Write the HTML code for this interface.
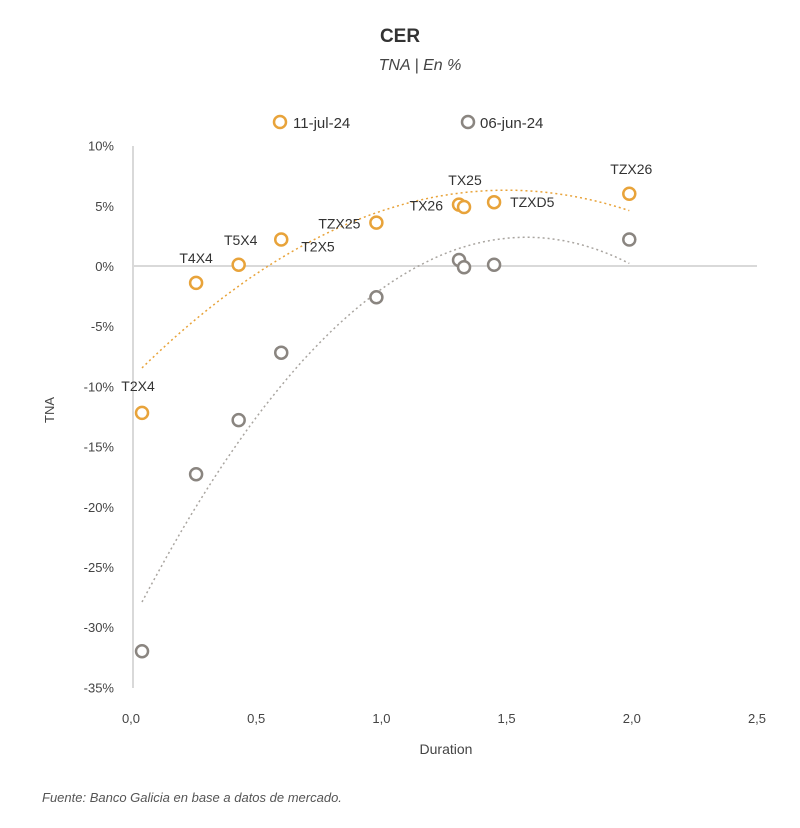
<!DOCTYPE html>
<html><head><meta charset="utf-8"><style>
body{margin:0;background:#fff;}
svg text{font-family:"Liberation Sans",sans-serif;}
</style></head><body>
<svg id="chart" width="800" height="823" viewBox="0 0 800 823" xmlns="http://www.w3.org/2000/svg">
<rect width="800" height="823" fill="#fff"/>
<text x="400" y="42" text-anchor="middle" font-size="19" font-weight="bold" fill="#333">CER</text>
<text x="420" y="70" text-anchor="middle" font-size="16" font-style="italic" fill="#444">TNA | En %</text>
<g>
<circle cx="280" cy="122" r="6" fill="#fff" stroke="#e8a33a" stroke-width="2.5"/>
<text x="293" y="128" font-size="15" fill="#333">11-jul-24</text>
<circle cx="468" cy="122" r="6" fill="#fff" stroke="#8a8580" stroke-width="2.5"/>
<text x="480" y="128" font-size="15" fill="#333">06-jun-24</text>
</g>
<g id="axes"></g>
<g id="marks"></g>
<text transform="translate(54,410) rotate(-90)" text-anchor="middle" font-size="13" fill="#444">TNA</text>
<text x="446" y="754" text-anchor="middle" font-size="14" fill="#444">Duration</text>
<text x="42" y="802" font-size="13" font-style="italic" fill="#555">Fuente: Banco Galicia en base a datos de mercado.</text>
</svg>
<script>
const bonds=["T2X4","T4X4","T5X4","T2X5","TZX25","TX26","TX25","TZXD5","TZX26"];
const duration=[0.044,0.26,0.43,0.6,0.98,1.31,1.33,1.45,1.99];
const julTNA=[-12.2,-1.4,0.1,2.2,3.6,5.1,4.9,5.3,6.0];
const junTNA=[-32,-17.3,-12.8,-7.2,-2.6,0.5,-0.1,0.1,2.2];
const xTicks=[0,0.5,1,1.5,2,2.5];
const xTickLabels=["0,0","0,5","1,0","1,5","2,0","2,5"];
const yTicks=[10,5,0,-5,-10,-15,-20,-25,-30,-35];
const labelPos=[[-4,-22,"middle"],[0,-20,"middle"],[2,-20,"middle"],[20,12,"start"],[-16,6,"end"],[-16,6,"end"],[1,-22,"middle"],[16,5,"start"],[2,-20,"middle"]];
const NS="http://www.w3.org/2000/svg";
const X=v=>131+v*250.4, Y=v=>266-v*12.04;
const axes=document.getElementById('axes'), marks=document.getElementById('marks');
function mk(tag,attrs,parent){const e=document.createElementNS(NS,tag);for(const k in attrs)e.setAttribute(k,attrs[k]);parent.appendChild(e);return e;}
let l=mk('line',{x1:133,y1:146,x2:133,y2:688,stroke:'#d9d9d9','stroke-width':2},axes);


l=mk('line',{x1:133,y1:Y(0),x2:757,y2:Y(0),stroke:'#d9d9d9','stroke-width':2},axes);


yTicks.forEach(t=>{const e=mk('text',{x:114,y:Y(t)+5,'text-anchor':'end','font-size':13,fill:'#444'},axes);e.textContent=t+'%';

});
xTicks.forEach((t,i)=>{const e=mk('text',{x:X(t),y:723,'text-anchor':'middle','font-size':13,fill:'#444'},axes);e.textContent=xTickLabels[i];

});
function quadFit(xs,ys){let n=xs.length,S=[0,0,0,0,0],T=[0,0,0];
for(let i=0;i<n;i++){let p=1;for(let k=0;k<5;k++){S[k]+=p;if(k<3)T[k]+=p*ys[i];p*=xs[i];}}
const A=[[S[0],S[1],S[2],T[0]],[S[1],S[2],S[3],T[1]],[S[2],S[3],S[4],T[2]]];
for(let i=0;i<3;i++){for(let j=i+1;j<3;j++){const f=A[j][i]/A[i][i];for(let k=i;k<4;k++)A[j][k]-=f*A[i][k];}}
const c=[0,0,0];for(let i=2;i>=0;i--){let s=A[i][3];for(let k=i+1;k<3;k++)s-=A[i][k]*c[k];c[i]=s/A[i][i];}return c;}
function trend(ys,color,name){const c=quadFit(duration,ys);let d='';const x0=duration[0],x1=duration[duration.length-1];
for(let i=0;i<=60;i++){const x=x0+(x1-x0)*i/60,y=c[0]+c[1]*x+c[2]*x*x;d+=(i?'L':'M')+X(x).toFixed(1)+','+Y(y).toFixed(1);}
const p=mk('path',{d:d,fill:'none',stroke:color,'stroke-width':1.5,'stroke-dasharray':'2,3'},marks);

}
trend(julTNA,'#e8a33a','trendline-jul');
trend(junTNA,'#a9a5a0','trendline-jun');
function pts(ys,color,name){ys.forEach((v,i)=>{const c=mk('circle',{cx:X(duration[i]),cy:Y(v),r:6,fill:'#fff',stroke:color,'stroke-width':2.5},marks);

});}
pts(junTNA,'#8a8580','point-jun');
pts(julTNA,'#e8a33a','point-jul');
julTNA.forEach((v,i)=>{const p=labelPos[i];const t=mk('text',{x:X(duration[i])+p[0],y:Y(v)+p[1],'text-anchor':p[2],'font-size':14,fill:'#333'},marks);t.textContent=bonds[i];

});
</script>
</body></html>
